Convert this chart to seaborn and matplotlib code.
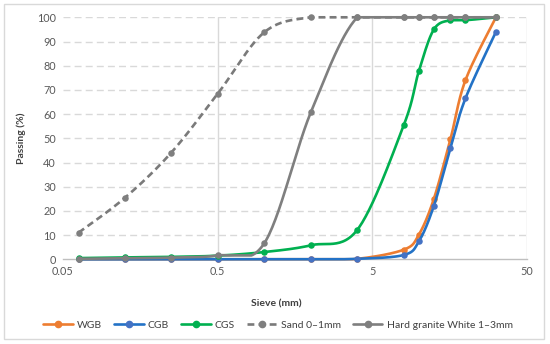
import numpy as np
import pandas as pd
import seaborn as sns
import matplotlib.pyplot as plt
from matplotlib.lines import Line2D
from matplotlib.patches import Rectangle

sns.set_theme(style='white')
plt.rcParams['font.family'] = ['Lato', 'DejaVu Sans']

# grading data
sieve = [0.063, 0.125, 0.25, 0.5, 1, 2, 4, 8, 10, 12.5, 16, 20, 31.5]
wgb = [0, 0, 0, 0, 0, 0, 0.2, 4, 10.2, 25, 49.7, 74, 100]
cgb = [0, 0, 0, 0, 0, 0, 0.2, 1.8, 7.4, 22.1, 46, 66.5, 94]
cgs = [0.5, 0.8, 1.0, 1.5, 3.0, 5.8, 12.2, 55.6, 77.8, 95, 98.8, 98.8, 100]
sand = [11, 25.3, 44, 68.4, 93.8, 100, 100, 100, 100, 100, 100, 100, 100]
granite = [0.2, 0.4, 0.7, 1.6, 6.6, 60.7, 100, 100, 100, 100, 100, 100, 100]

series_names = ['WGB', 'CGB', 'CGS', 'Sand 0\u20131mm', 'Hard granite White 1\u20133mm']
series_values = [wgb, cgb, cgs, sand, granite]
line_colors = ['#ED7D31', '#2372C6', '#00B050', '#7A7A7A', '#7F7F7F']
marker_colors = ['#ED7D31', '#4472C4', '#00B050', '#7F7F7F', '#7F7F7F']
line_styles = ['-', '-', '-', (0, (2.6, 1.6)), '-']


def smooth(xs, ys, n=30):
    # Excel-like smoothed line: bezier segments computed in screen-ish space,
    # kept within each segment's end values so it doesn't overshoot
    u = np.log10(xs) * 154.0
    v = np.asarray(ys, dtype=float) * 2.42
    p = np.column_stack([u, v])
    pts = [p[0]]
    t = np.linspace(0, 1, n)[1:, None]
    for i in range(len(p) - 1):
        p0 = p[i - 1] if i > 0 else p[i]
        p3 = p[i + 2] if i + 2 < len(p) else p[i + 1]
        c1 = p[i] + (p[i + 1] - p0) / 6.0
        c2 = p[i + 1] - (p3 - p[i]) / 6.0
        seg = ((1 - t) ** 3 * p[i] + 3 * (1 - t) ** 2 * t * c1
               + 3 * (1 - t) * t ** 2 * c2 + t ** 3 * p[i + 1])
        lo, hi = sorted([p[i, 1], p[i + 1, 1]])
        seg[:, 1] = np.clip(seg[:, 1], lo, hi)
        pts.extend(seg)
    pts = np.array(pts)
    return 10 ** (pts[:, 0] / 154.0), pts[:, 1] / 2.42


fig = plt.figure(figsize=(5.5, 3.44), dpi=100)
fig.patch.set_facecolor('white')
fig.patches.append(Rectangle((4 / 550, 5 / 344), 540 / 550, 335 / 344,
                             transform=fig.transFigure, fill=False,
                             edgecolor='#D9D9D9', linewidth=1.0))
ax = fig.add_axes([63 / 550, 1 - 259.3 / 344, 464 / 550, 242 / 344])
ax.set_xscale('log')
ax.set_xlim(0.05, 50)
ax.set_ylim(0, 100)

for y in range(10, 101, 10):
    ax.axhline(y, color='#D9D9D9', lw=1.0, ls=(0, (5, 3)), zorder=0)
for x in [0.5, 5, 50]:
    ax.axvline(x, color='#D9D9D9', lw=1.0, zorder=0)

handles = []
for k, (name, vals, lc, mc, ls) in enumerate(zip(series_names, series_values, line_colors,
                                                 marker_colors, line_styles)):
    sx, sy = smooth(sieve, vals)
    curve = pd.DataFrame({'x': sx, 'y': sy})
    sns.lineplot(data=curve, x='x', y='y', ax=ax, color=lc, lw=1.9,
                 linestyle=ls, sort=False, estimator=None, clip_on=False,
                 zorder=2 + 2 * k)
    pts = pd.DataFrame({'x': sieve, 'y': vals})
    sns.scatterplot(data=pts, x='x', y='y', ax=ax, color=mc, s=22,
                    edgecolor=mc, linewidth=0, clip_on=False, zorder=3 + 2 * k)
    handles.append(Line2D([], [], color=lc, lw=1.9, linestyle=ls,
                          marker='o', markersize=4.5, markerfacecolor=mc,
                          markeredgecolor=mc, label=name))

ax.set_xticks([0.05, 0.5, 5, 50])
ax.set_xticklabels(['0.05', '0.5', '5', '50'])
ax.minorticks_off()
ax.set_yticks(range(0, 101, 10))
ax.tick_params(axis='both', length=0, labelsize=7.8, labelcolor='#595959', pad=5)
ax.set_xlabel('')
ax.set_ylabel('Passing (%)', fontsize=7.5, fontweight='bold', color='#404040', labelpad=8)

for side in ['left', 'right', 'top']:
    ax.spines[side].set_visible(False)
ax.spines['bottom'].set_color('#BFBFBF')
ax.spines['bottom'].set_linewidth(1.0)

fig.text(276 / 550, 1 - 304 / 344, 'Sieve (mm)', ha='center', va='center',
         fontsize=7.5, fontweight='bold', color='#404040')
fig.legend(handles=handles, loc='center', bbox_to_anchor=(278 / 550, 1 - 325 / 344),
           ncol=5, frameon=False, fontsize=7.5, handlelength=2.8,
           columnspacing=1.2, handletextpad=0.4, labelcolor='#404040')

fig.savefig('out.png', dpi=100)
